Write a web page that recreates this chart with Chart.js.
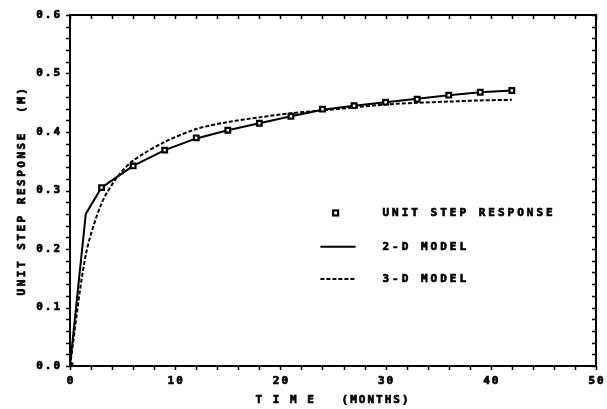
<!DOCTYPE html>
<html><head><meta charset="utf-8">
<script src="https://cdn.jsdelivr.net/npm/chart.js@4"></script>
<style>html,body{margin:0;padding:0;background:#fff}#wrap{width:607px;height:409px}</style>
</head><body><div id="wrap"><canvas id="c" width="607" height="409"></canvas></div>
<script>
// ---- data ----
const stepMonths   = [0, 3, 6, 9, 12, 15, 18, 21, 24, 27, 30, 33, 36, 39, 42];
const stepValues   = [0, 0.305, 0.342, 0.369, 0.390, 0.403, 0.415, 0.427, 0.439, 0.445, 0.451, 0.456, 0.463, 0.468, 0.471];
const model2dMonths = [0, 1.5, 3, 6, 9, 12, 15, 18, 21, 24, 27, 30, 33, 36, 39, 42];
const model2dValues = [0, 0.260, 0.305, 0.342, 0.369, 0.389, 0.403, 0.415, 0.427, 0.438, 0.445, 0.451, 0.457, 0.463, 0.468, 0.471];
const model3dMonths = [0, 1.5, 3, 4.5, 6, 9, 12, 15, 18, 21, 24, 27, 30, 33, 36, 39, 42];
const model3dValues = [0, 0.190, 0.278, 0.323, 0.351, 0.383, 0.405, 0.417, 0.425, 0.432, 0.437, 0.442, 0.447, 0.450, 0.452, 0.454, 0.455];
const xTickLabels = ['0', '10', '20', '30', '40', '50'];
const yTickLabels = ['0.0', '0.1', '0.2', '0.3', '0.4', '0.5', '0.6'];
const seriesLabels = ['UNIT STEP RESPONSE', '2-D MODEL', '3-D MODEL'];
const xTitle = 'T I M E   (MONTHS)';
const yTitle = 'UNIT STEP RESPONSE  (M)';

const pts = (xs, ys) => xs.map((x, i) => ({x, y: ys[i]}));
const FONT = 'bold 11px "DejaVu Sans Mono"';

function boldText(ctx, s, x, y) {
  ctx.fillText(s, x, y);
  ctx.strokeText(s, x, y);
}

const decor = {
  id: 'decor',
  afterDraw(chart) {
    const ctx = chart.ctx, a = chart.chartArea;
    const xs = chart.scales.x, ys = chart.scales.y;
    ctx.save();
    ctx.strokeStyle = '#000'; ctx.fillStyle = '#000';
    // frame
    ctx.lineWidth = 2;
    ctx.strokeRect(a.left, a.top, a.right - a.left, a.bottom - a.top);
    // ticks
    ctx.lineWidth = 1.5;
    const L = 4;
    ctx.beginPath();
    for (let v = 0; v <= 50 + 1e-9; v += 2) {
      const p = Math.round(xs.getPixelForValue(v)) + 0.5;
      ctx.moveTo(p, a.bottom); ctx.lineTo(p, a.bottom + L);
      ctx.moveTo(p, a.top); ctx.lineTo(p, a.top + L);
    }
    for (let k = 0; k <= 30; k++) {
      const v = k * 0.02;
      const p = Math.round(ys.getPixelForValue(v)) + 0.5;
      ctx.moveTo(a.left, p); ctx.lineTo(a.left - L, p);
      ctx.moveTo(a.right, p); ctx.lineTo(a.right - L, p);
    }
    ctx.stroke();
    // tick labels
    ctx.font = FONT;
    ctx.lineWidth = 0.7;
    ctx.letterSpacing = '2px';
    ctx.textBaseline = 'middle';
    ctx.textAlign = 'center';
    xTickLabels.forEach(t => {
      boldText(ctx, t, xs.getPixelForValue(+t) + 1, a.bottom + 15);
    });
    ctx.textAlign = 'right';
    yTickLabels.forEach(t => {
      boldText(ctx, t, a.left - 8, ys.getPixelForValue(+t));
    });
    // axis titles
    ctx.textAlign = 'center';
    ctx.letterSpacing = '2px';
    boldText(ctx, xTitle, (a.left + a.right) / 2, a.bottom + 34);
    ctx.save();
    ctx.translate(22, (a.top + a.bottom) / 2);
    ctx.rotate(-Math.PI / 2);
    ctx.letterSpacing = '2.5px';
    boldText(ctx, yTitle, 0, 0);
    ctx.restore();
    // legend
    const w = a.right - a.left, h = a.bottom - a.top;
    const mx = a.left + w * 0.505, tx = a.left + w * 0.594;
    const rows = [a.top + h * 0.564, a.top + h * 0.66, a.top + h * 0.752];
    ctx.letterSpacing = '3px';
    ctx.textAlign = 'left';
    seriesLabels.forEach((s, i) => boldText(ctx, s, tx, rows[i] + 0.5));
    const ds = chart.data.datasets;
    // marker
    ctx.lineWidth = ds[0].borderWidth;
    ctx.strokeRect(mx - 2.5, rows[0] - 2.5, 5, 5);
    // lines
    const x0 = a.left + w * 0.476, x1 = a.left + w * 0.543;
    ctx.lineWidth = ds[1].borderWidth;
    ctx.setLineDash([]);
    ctx.beginPath(); ctx.moveTo(x0, rows[1]); ctx.lineTo(x1, rows[1]); ctx.stroke();
    ctx.lineWidth = ds[2].borderWidth;
    ctx.setLineDash(ds[2].borderDash);
    ctx.beginPath(); ctx.moveTo(x0, rows[2]); ctx.lineTo(x1, rows[2]); ctx.stroke();
    ctx.restore();
  }
};

new Chart(document.getElementById('c'), {
  type: 'line',
  data: {
    datasets: [
      { label: seriesLabels[0], data: pts(stepMonths, stepValues), showLine: false,
        pointStyle: 'rect', pointRadius: 3.3, borderColor: '#000', backgroundColor: '#fff',
        borderWidth: 2.2 },
      { label: seriesLabels[1], data: pts(model2dMonths, model2dValues), borderColor: '#000',
        borderWidth: 2, pointRadius: 0, tension: 0, fill: false },
      { label: seriesLabels[2], data: pts(model3dMonths, model3dValues), borderColor: '#000',
        borderWidth: 2, borderDash: [4, 2], pointRadius: 0, tension: 0.3, fill: false }
    ]
  },
  options: {
    responsive: false, animation: false, devicePixelRatio: 1,
    layout: { padding: { left: 0, top: 15, right: 11, bottom: 0 } },
    plugins: { legend: { display: false }, tooltip: { enabled: false } },
    scales: {
      x: { type: 'linear', min: 0, max: 50, grid: { display: false }, border: { display: false },
           ticks: { display: false }, afterFit: s => { s.height = 43; } },
      y: { type: 'linear', min: 0, max: 0.6, grid: { display: false }, border: { display: false },
           ticks: { display: false }, afterFit: s => { s.width = 70; } }
    }
  },
  plugins: [decor]
});
</script>
</body></html>
